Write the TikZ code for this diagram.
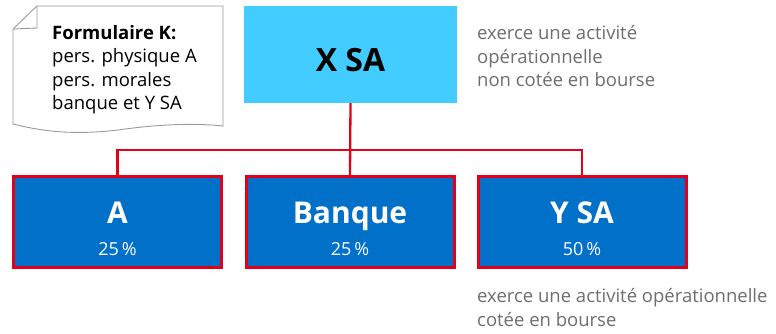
\documentclass[tikz,border=0pt]{standalone}
\usepackage{fontspec}
\setmainfont{Open Sans}
\definecolor{xcyan}{HTML}{42CCFF}
\definecolor{xblue}{HTML}{0070C9}
\definecolor{xred}{HTML}{E3001B}
\definecolor{xgray}{HTML}{6E6E6E}
\definecolor{docgray}{HTML}{9A9A9A}
\begin{document}
\begin{tikzpicture}[x=1pt,y=-1pt,
  topbox/.style={fill=xcyan,draw=none,minimum width=213pt,minimum height=97pt,inner sep=0pt,
    font=\fontsize{32}{34}\selectfont\bfseries,text=black},
  subbox/.style={fill=xblue,draw=xred,line width=3pt,minimum width=208pt,minimum height=91pt,
    inner sep=0pt,text=white,align=center,font=\fontsize{30}{32}\selectfont\bfseries},
  link/.style={draw=xred,line width=2.3pt},
  note/.style={text=xgray,align=left,anchor=base west,inner sep=0pt,
    font=\fontsize{18.5}{23.7}\selectfont},
  doctext/.style={align=left,anchor=base west,inner sep=0pt,font=\fontsize{18.5}{23.6}\selectfont}]
\newcommand{\boxtext}[2]{\rule{0pt}{35pt}#1\\{\fontsize{18}{20}\selectfont\mdseries #2\rule[-1pt]{0pt}{1pt}}}
\useasboundingbox (0,0) rectangle (776,333);
% document shape
\draw[docgray,line width=0.9pt,fill=white]
  (37,6) -- (223,6) -- (223,126)
  .. controls (195,123) and (160,124) .. (118,130)
  .. controls (75,135) and (45,132) .. (13,124)
  -- (13,29) -- cycle;
\draw[docgray,line width=0.9pt] (13,29) -- (37,28) -- (37,6);
\node[doctext] (doc) at (52,109.8) {\textbf{Formulaire K:}\\pers. physique A\\pers. morales\\banque et Y SA};
% boxes
\node[topbox] (xsa) at (350.5,54.5) {\rule{0pt}{35pt}X SA};
\node[subbox] (a) at (117.5,222) {\boxtext{A}{25\,\%}};
\node[subbox] (banque) at (350,222) {\boxtext{Banque}{25\,\%}};
\node[subbox] (ysa) at (582,222) {\boxtext{Y SA}{50\,\%}};
\coordinate (bus) at (350,150);
\draw[link] (xsa.south) -- (banque.north);
\draw[link] (a.north) |- (bus) -| (ysa.north);
% notes
\node[note] (n1) at (477,86.7) {exerce une activité\\opérationnelle\\non cotée en bourse};
\node[note] (n2) at (477,326) {exerce une activité opérationnelle\\cotée en bourse};
\end{tikzpicture}
\end{document}
